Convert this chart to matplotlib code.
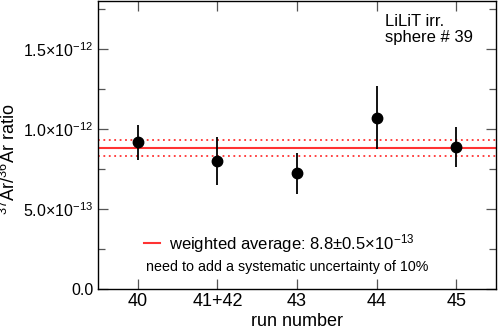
import matplotlib
matplotlib.use("Agg")
from matplotlib import pyplot as plt
import numpy as np

runs = ["40", "41+42", "43", "44", "45"]
ratio = [0.918e-12, 0.800e-12, 0.723e-12, 1.071e-12, 0.888e-12]
ratio_err = [0.110e-12, 0.150e-12, 0.127e-12, 0.199e-12, 0.127e-12]
wavg = 0.883e-12
wavg_err = 0.049e-12

ytick_vals = [0.0, 0.5e-12, 1.0e-12, 1.5e-12]
ytick_labels = ["0.0", r"5.0$\times$10$^{-13}$", r"1.0$\times$10$^{-12}$", r"1.5$\times$10$^{-12}$"]

plt.rcParams["font.family"] = ["Liberation Sans", "DejaVu Sans"]
plt.rcParams["mathtext.fontset"] = "custom"
plt.rcParams["mathtext.rm"] = "Liberation Sans"
plt.rcParams["mathtext.it"] = "Liberation Sans:italic"
plt.rcParams["mathtext.default"] = "regular"

red = "#ff3333"

fig = plt.figure(figsize=(4.98, 3.29), dpi=100)
ax = fig.add_axes([98 / 498, 1 - 289 / 329, (496 - 98) / 498, 288 / 329])

x = np.arange(len(runs))
ax.axhline(wavg, color=red, lw=1.5)
ax.axhline(wavg + wavg_err, color=red, lw=1.3, ls=(0, (1, 2)))
ax.axhline(wavg - wavg_err, color=red, lw=1.3, ls=(0, (1, 2)))
ax.errorbar(x, ratio, yerr=ratio_err, fmt="o", color="black", ms=7.5, elinewidth=1.3, capsize=0)

ax.set_xlim(-0.5, len(runs) - 0.5)
ax.set_ylim(0, 1.8e-12)
ax.set_xticks(x)
ax.set_xticklabels(runs, fontsize=13)
ax.set_yticks(ytick_vals)
ax.set_yticklabels(ytick_labels, fontsize=11.5)
ax.set_yticks(np.arange(0.25e-12, 1.8e-12, 0.5e-12), minor=True)
ax.tick_params(which="both", direction="in", top=True, right=True)
ax.tick_params(which="major", length=7, width=0.9, color="#555555")
ax.tick_params(which="minor", length=5, width=0.9, color="#555555")
ax.tick_params(axis="x", pad=3)
for s in ax.spines.values():
    s.set_linewidth(1.0)

ax.set_xlabel("run number", fontsize=13)
ax.xaxis.set_label_coords(0.5, -0.082)
ax.set_ylabel(r"$^{37}$Ar/$^{36}$Ar ratio", fontsize=13)
ax.yaxis.set_label_coords(-0.198, 0.45)

ax.text(0.72, 0.955, "LiLiT irr.\nsphere # 39", transform=ax.transAxes, fontsize=12,
        va="top", ha="left", linespacing=1.05)

ax.plot([0.115, 0.155], [0.158, 0.158], transform=ax.transAxes, color=red, lw=1.5)
ax.text(0.178, 0.158, r"weighted average: 8.8$\pm$0.5$\times$10$^{-13}$", transform=ax.transAxes,
        fontsize=12, va="center", ha="left")
ax.text(0.12, 0.075, "need to add a systematic uncertainty of 10%", transform=ax.transAxes,
        fontsize=10.3, va="center", ha="left")

fig.savefig("out.png", dpi=100)
